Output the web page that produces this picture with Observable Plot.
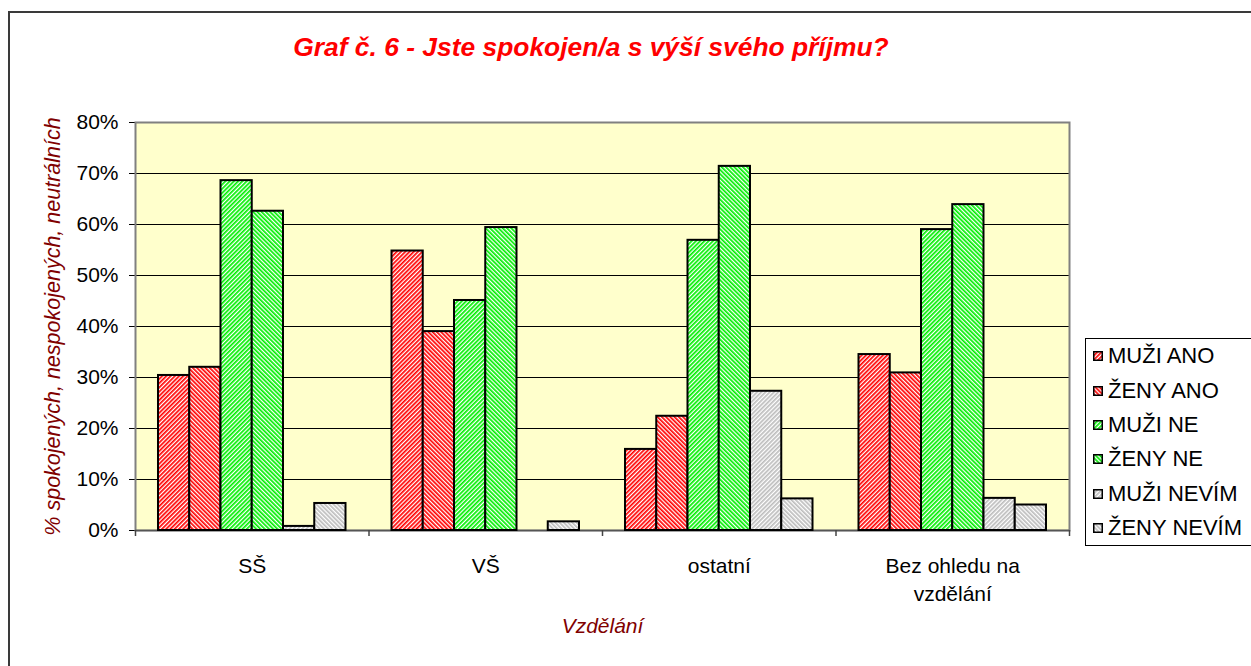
<!DOCTYPE html>
<html><head><meta charset="utf-8">
<script src="https://cdn.jsdelivr.net/npm/d3@7"></script>
<script src="https://cdn.jsdelivr.net/npm/@observablehq/plot@0.6"></script>
<style>
html,body{margin:0;padding:0;background:#fff;overflow:hidden;}
#wrap{position:relative;width:1251px;height:666px;overflow:hidden;font-family:"Liberation Sans",Arial,sans-serif;background:#fff;}
#outer{position:absolute;left:8px;top:11px;width:1300px;height:700px;border:2px solid #3a3a3a;}
#title{position:absolute;left:0;top:34px;width:1182px;text-align:center;font:italic bold 26.4px/26px "Liberation Sans",Arial,sans-serif;color:#ff0000;white-space:nowrap;}
#chart{position:absolute;left:0;top:100px;}
#legend{position:absolute;left:1085px;top:338px;width:200px;border:1px solid #000;background:#fff;}
.row{display:flex;align-items:center;height:34.4px;font-size:22px;color:#000;white-space:nowrap;}
.row svg{margin-left:7px;margin-right:5px;flex:none;}
</style>
</head>
<body>
<svg width="0" height="0" style="position:absolute;left:0;top:0">
  <defs id="patdefs"></defs>
</svg>
<div id="wrap">
  <div id="outer"></div>
  <div id="title"></div>
  <div id="chart"></div>
  <div id="legend"></div>
</div>
<script>
// ---- data ----
const categories = ["SŠ", "VŠ", "ostatní", "Bez ohledu na\nvzdělání"];
const series = ["MUŽI ANO", "ŽENY ANO", "MUŽI NE", "ŽENY NE", "MUŽI NEVÍM", "ŽENY NEVÍM"];
const muziAno   = [30.4, 54.8, 15.9, 34.5];
const zenyAno   = [32.0, 39.0, 22.4, 30.9];
const muziNe    = [68.6, 45.1, 56.9, 59.0];
const zenyNe    = [62.6, 59.4, 71.4, 63.9];
const muziNevim = [0.8, 0, 27.3, 6.3];
const zenyNevim = [5.3, 1.7, 6.2, 5.0];
const yTicks = [0, 10, 20, 30, 40, 50, 60, 70, 80];
const title = "Graf č. 6 - Jste spokojen/a s výší svého příjmu?";
const yTitle = "% spokojených, nespokojených, neutrálních";
const xTitle = "Vzdělání";

// ---- styles ----
const seriesValues = [muziAno, zenyAno, muziNe, zenyNe, muziNevim, zenyNevim];
const seriesColors = ["#ff0000", "#ff0000", "#00ee00", "#00ee00", "#bdbdbd", "#bdbdbd"];
const seriesAngles = [45, -45, 45, -45, 45, -45];

// patterns
const defs = document.getElementById("patdefs");
defs.innerHTML = series.map((s, i) =>
  `<pattern id="pat${i}" patternUnits="userSpaceOnUse" width="3" height="3" patternTransform="rotate(${seriesAngles[i]})">
     <rect width="3" height="3" fill="#ffffff"/>
     <rect width="1.7" height="3" fill="${seriesColors[i]}"/>
   </pattern>`).join("");

const rows = series.flatMap((s, i) =>
  categories.map((c, j) => ({category: c, series: s, value: seriesValues[i][j]})));

const W = 1251, H = 540;
const mL = 135, mR = 182, mT = 22, mB = 110;
const bw = (W - mL - mR) / categories.length;
const pad = 23;
const barW = (bw - 2 * pad) / series.length;

const barMarks = series.map((s, i) =>
  Plot.barY(rows.filter(d => d.series === s && d.value > 0), {
    x: "category", y: "value",
    fill: `url(#pat${i})`, stroke: "#000", strokeWidth: 2,
    insetLeft: pad + i * barW, insetRight: bw - pad - (i + 1) * barW
  }));

const chart = Plot.plot({
  width: W, height: H,
  marginLeft: mL, marginRight: mR, marginTop: mT, marginBottom: mB,
  style: {fontFamily: "'Liberation Sans', Arial, sans-serif", fontSize: "21px", color: "#000", background: "transparent", overflow: "visible"},
  x: {domain: categories, padding: 0, round: false, axis: null},
  y: {domain: [0, 80], ticks: yTicks, tickFormat: d => d + "%", tickSize: 6, tickPadding: 11, label: null},
  marks: [
    Plot.frame({fill: "#ffffcc", stroke: "none"}),
    Plot.ruleY(yTicks.filter(t => t > 0 && t < 80), {stroke: "#000", strokeWidth: 1}),
    Plot.frame({stroke: "#808080", strokeWidth: 2}),
    Plot.ruleY([0], {stroke: "#555", strokeWidth: 1.5}),
    ...barMarks,
    Plot.ruleX(categories, {x: d => d, y1: 0, y2: 0, dx: -bw / 2, insetBottom: -6, stroke: "#444", strokeWidth: 1.5}),
    Plot.ruleX(categories.slice(-1), {x: d => d, y1: 0, y2: 0, dx: bw / 2, insetBottom: -6, stroke: "#444", strokeWidth: 1.5}),
    Plot.text(categories, {x: d => d, frameAnchor: "bottom", dy: 23, lineAnchor: "top", lineHeight: 1.33, fontSize: 21, fill: "#000"}),
    Plot.text([xTitle], {frameAnchor: "bottom", dy: 96, lineAnchor: "middle", fontSize: 21, fontStyle: "italic", fill: "#800000"}),
    Plot.text([yTitle], {frameAnchor: "left", textAnchor: "middle", dx: -82, rotate: -90, lineAnchor: "middle", fontSize: 21.5, fontStyle: "italic", fill: "#800000"})
  ]
});
document.getElementById("chart").appendChild(chart);
document.getElementById("title").textContent = title;

// legend
const legend = document.getElementById("legend");
legend.innerHTML = series.map((s, i) =>
  `<div class="row"><svg width="10" height="10"><rect x="0.75" y="0.75" width="8.5" height="8.5" fill="url(#pat${i})" stroke="#000" stroke-width="1.5"/></svg><span>${s}</span></div>`
).join("");
</script>
</body></html>
